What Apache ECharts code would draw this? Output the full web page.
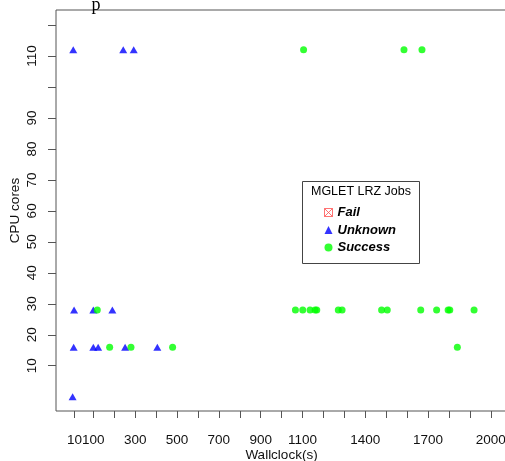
<!DOCTYPE html>
<html>
<head>
<meta charset="utf-8">
<script src="https://cdn.jsdelivr.net/npm/echarts@6/dist/echarts.min.js"></script>
<style>html,body{margin:0;padding:0;background:#fff}#c{width:505px;height:461px}</style>
</head>
<body>
<div id="c"></div>
<script>
// ---- data ----
var unknownWallclock = [4, 243, 293, 8, 100, 191, 6, 100, 123, 252, 406, 1];
var unknownCores     = [112, 112, 112, 28, 28, 28, 16, 16, 16, 16, 16, 0];
var successWallclock = [1105, 1585, 1671, 119, 1066, 1101, 1136, 1160, 1168, 1271, 1289, 1478, 1505, 1665, 1741, 1796, 1804, 1920, 178, 280, 479, 1840];
var successCores     = [112, 112, 112, 28, 28, 28, 28, 28, 28, 28, 28, 28, 28, 28, 28, 28, 28, 28, 16, 16, 16, 16];
var failWallclock = [];
var failCores = [];
var xTicks = [10, 100, 200, 300, 400, 500, 600, 700, 800, 900, 1000, 1100, 1200, 1300, 1400, 1500, 1600, 1700, 1800, 1900, 2000];
var xLabels = [10, 100, 300, 500, 700, 900, 1100, 1400, 1700, 2000];
var yTicks = [10, 20, 30, 40, 50, 60, 70, 80, 90, 100, 110, 120];
var yLabels = [10, 20, 30, 40, 50, 60, 70, 80, 90, 110];
var seriesNames = ['Fail', 'Unknown', 'Success'];

function pairs(xs, ys) { return xs.map(function (x, i) { return [x, ys[i]]; }); }
function plain(v) { return String(v); }

var font = '"Liberation Sans", Arial, sans-serif';
var chart = echarts.init(document.getElementById('c'), null, { renderer: 'canvas' });
chart.setOption({
  animation: false,
  backgroundColor: '#fff',
  textStyle: { fontFamily: font },
  grid: { left: 56, top: 10, width: 451, height: 401, outerBoundsMode: 'none', containLabel: false, show: true, borderColor: '#555', borderWidth: 1, backgroundColor: 'transparent' },
  xAxis: {
    type: 'value', min: -78.4, max: 2077.4,
    axisLine: { show: false, onZero: false },
    splitLine: { show: false },
    axisTick: { show: true, inside: false, customValues: xTicks, length: 7, lineStyle: { color: '#555' } },
    axisLabel: { customValues: xLabels, formatter: plain, hideOverlap: false, showMinLabel: true, showMaxLabel: true, margin: 22, fontSize: 13.5, color: '#111', fontFamily: font },
    name: 'Wallclock(s)', nameLocation: 'middle', nameGap: 37, nameMoveOverlap: false,
    nameTextStyle: { fontSize: 13.5, color: '#111', fontFamily: font }
  },
  yAxis: {
    type: 'value', min: -4.62, max: 124.86,
    axisLine: { show: false, onZero: false },
    splitLine: { show: false },
    axisTick: { show: true, inside: false, customValues: yTicks, length: 8, lineStyle: { color: '#555' } },
    axisLabel: { customValues: yLabels, formatter: plain, hideOverlap: false, rotate: 90, margin: 17, fontSize: 13.5, color: '#111', fontFamily: font },
    name: 'CPU cores', nameLocation: 'middle', nameGap: 34, nameRotate: 90, nameMoveOverlap: false,
    nameTextStyle: { fontSize: 13.5, color: '#111', fontFamily: font }
  },
  legend: {
    orient: 'vertical', left: 322, top: 205.5, itemGap: 3.5,
    itemWidth: 8, itemHeight: 8, padding: 0,
    textStyle: { fontSize: 13, fontWeight: 'bold', fontStyle: 'italic', color: '#000', fontFamily: font, lineHeight: 14 },
    data: [
      { name: 'Fail', icon: 'path://M0,0H10V10H0ZM0,0L10,10M10,0L0,10', itemStyle: { color: 'none', borderColor: '#ff5050', borderWidth: 1 } },
      { name: 'Unknown', icon: 'triangle' },
      { name: 'Success', icon: 'circle' }
    ]
  },
  graphic: [
    { type: 'rect', shape: { x: 302.5, y: 181.5, width: 117, height: 82 }, style: { fill: '#fff', stroke: '#444', lineWidth: 1 }, z: 0 },
    { type: 'text', x: 361, y: 192, style: { text: 'MGLET LRZ Jobs', font: '12.5px ' + font, fill: '#000', textAlign: 'center', textVerticalAlign: 'middle' }, z: 1 },
    { type: 'text', x: 96, y: -4, style: { text: 'p', font: '18px "Liberation Serif", serif', fill: '#000', textAlign: 'center', textVerticalAlign: 'alphabetic' }, z: 1 }
  ],
  series: [
    { name: seriesNames[0], type: 'scatter', data: pairs(failWallclock, failCores), symbol: 'rect', symbolSize: 6, itemStyle: { color: '#ff5050' } },
    { name: seriesNames[1], type: 'scatter', data: pairs(unknownWallclock, unknownCores), symbol: 'triangle', symbolSize: [8, 7], itemStyle: { color: '#0000ff' } },
    { name: seriesNames[2], type: 'scatter', data: pairs(successWallclock, successCores), symbol: 'circle', symbolSize: 7, itemStyle: { color: '#00ff00' } }
  ]
});
</script>
</body>
</html>
